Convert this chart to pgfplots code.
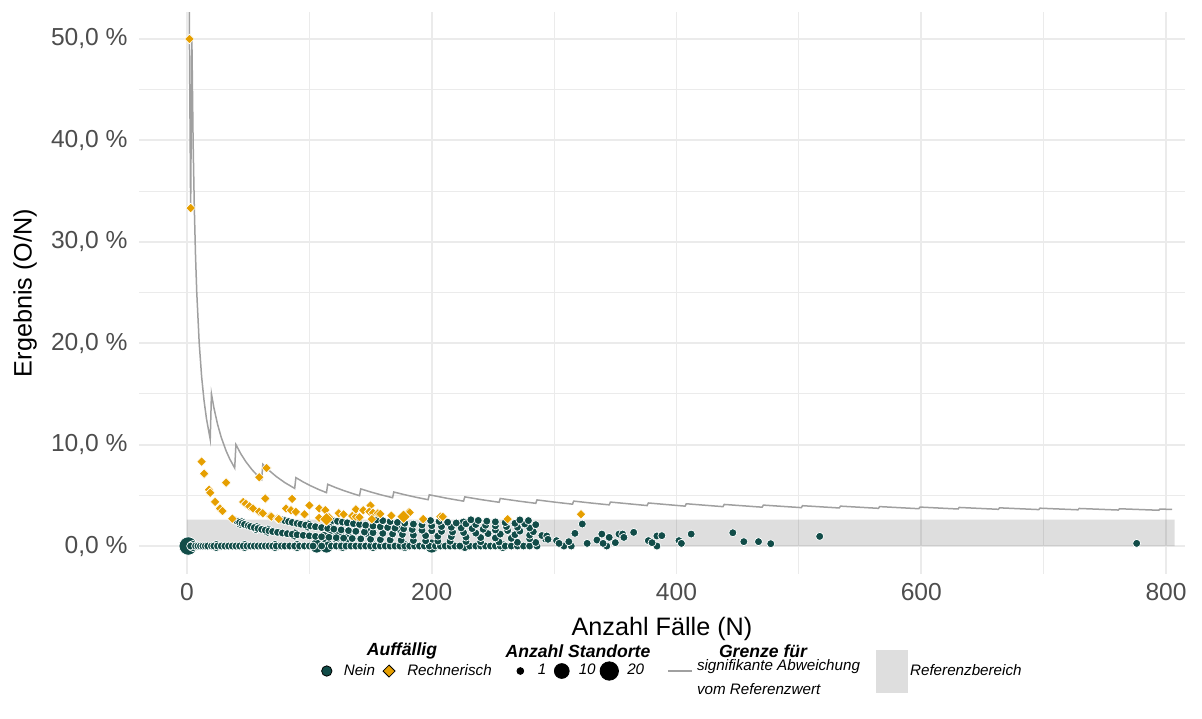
\documentclass[border=0pt]{standalone}
\usepackage{fontspec}
\setmainfont{Liberation Sans}
\usepackage{pgfplots}
\usepackage{pgfplotstable}
\pgfplotsset{compat=1.18}
\definecolor{tealc}{RGB}{17,76,72}
\definecolor{orangec}{RGB}{230,159,0}
\definecolor{linec}{RGB}{160,160,160}
\definecolor{bandc}{RGB}{222,222,222}
\definecolor{gridc}{RGB}{235,235,235}
\definecolor{tickc}{RGB}{77,77,77}

% threshold line: N, critical count k (value = k/N)
\pgfplotstableread[row sep=\\]{
N k\\ 1 1\\ 2 1\\ 3 1\\ 4 2\\ 5 2\\ 6 2\\ 7 2\\ 8 2\\ 10 2\\ 12 2\\ 14 2\\ 16 2\\ 19 2\\
20 3\\ 22 3\\ 25 3\\ 28 3\\ 32 3\\ 35 3\\ 39 3\\
40 4\\ 44 4\\ 48 4\\ 53 4\\ 58 4\\ 61 4\\
62 5\\ 67 5\\ 73 5\\ 80 5\\ 88 5\\
89 6\\ 95 6\\ 101 6\\ 108 6\\ 114 6\\
115 7\\ 121 7\\ 128 7\\ 135 7\\ 141 7\\
142 8\\ 150 8\\ 158 8\\ 168 8\\
169 9\\ 178 9\\ 187 9\\ 197 9\\
198 10\\ 212 10\\ 226 10\\
227 11\\ 241 11\\ 255 11\\
256 12\\ 271 12\\ 285 12\\
286 13\\ 301 13\\ 315 13\\
316 14\\ 331 14\\ 345 14\\
346 15\\ 376 15\\ 377 16\\ 407 16\\ 408 17\\ 438 17\\ 439 18\\ 470 18\\
471 19\\ 502 19\\ 503 20\\ 533 20\\ 534 21\\ 565 21\\ 566 22\\ 598 22\\
599 23\\ 630 23\\ 631 24\\ 663 24\\ 664 25\\ 696 25\\ 697 26\\ 728 26\\
729 27\\ 761 27\\ 762 28\\ 794 28\\ 795 29\\ 805 29\\
}\limittab

% teal points (not conspicuous): N, O ; small size
\pgfplotstableread[row sep=\\]{
N O\\
3 0\\ 7 0\\ 9 0\\ 11 0\\ 13 0\\ 15 0\\ 17 0\\ 20 0\\ 22 0\\ 25 0\\ 28 0\\ 31 0\\ 34 0\\ 37 0\\ 40 0\\ 43 0\\ 46 0\\ 49 0\\ 52 0\\ 55 0\\ 58 0\\ 61 0\\ 64 0\\ 67 0\\ 70 0\\ 73 0\\ 77 0\\ 80 0\\ 84 0\\ 88 0\\ 92 0\\ 96 0\\ 100 0\\ 103 0\\ 110 0\\ 118 0\\ 122 0\\ 126 0\\ 130 0\\ 134 0\\ 138 0\\ 142 0\\ 146 0\\ 150 0\\ 154 0\\ 158 0\\ 162 0\\ 166 0\\ 170 0\\ 174 0\\ 178 0\\ 182 0\\ 186 0\\ 190 0\\ 194 0\\ 198 0\\ 203 0\\ 207 0\\ 211 0\\ 215 0\\ 219 0\\ 223 0\\ 231 0\\ 236 0\\ 240 0\\ 244 0\\ 248 0\\ 252 0\\ 256 0\\ 260 0\\ 265 0\\ 270 0\\ 275 0\\ 280 0\\ 286 0\\ 308 0\\ 314 0\\ 343 0\\ 384 0\\
39 1\\ 41 1\\ 43 1\\ 45 1\\ 47 1\\ 50 1\\ 52 1\\ 55 1\\ 58 1\\ 61 1\\ 64 1\\ 67 1\\ 70 1\\ 74 1\\ 78 1\\ 82 1\\ 86 1\\ 90 1\\ 95 1\\ 100 1\\ 105 1\\ 110 1\\ 116 1\\ 122 1\\ 128 1\\ 135 1\\ 142 1\\ 150 1\\ 158 1\\ 166 1\\ 175 1\\ 185 1\\ 195 1\\ 205 1\\ 215 1\\ 228 1\\ 240 1\\ 255 1\\ 270 1\\ 285 1\\
78 2\\ 80 2\\ 83 2\\ 86 2\\ 90 2\\ 93 2\\ 97 2\\ 101 2\\ 105 2\\ 110 2\\ 115 2\\ 120 2\\ 126 2\\ 132 2\\ 138 2\\ 145 2\\ 152 2\\ 160 2\\ 168 2\\ 176 2\\ 185 2\\ 195 2\\ 205 2\\ 216 2\\ 228 2\\ 240 2\\ 252 2\\ 265 2\\ 280 2\\ 293 2\\
116 3\\ 119 3\\ 123 3\\ 127 3\\ 131 3\\ 136 3\\ 141 3\\ 146 3\\ 152 3\\ 158 3\\ 164 3\\ 170 3\\ 177 3\\ 184 3\\ 192 3\\ 200 3\\ 208 3\\ 217 3\\ 226 3\\ 236 3\\ 246 3\\ 256 3\\ 268 3\\ 280 3\\ 290 3\\
155 4\\ 160 4\\ 166 4\\ 172 4\\ 178 4\\ 185 4\\ 192 4\\ 200 4\\ 208 4\\ 216 4\\ 224 4\\ 233 4\\ 242 4\\ 252 4\\ 262 4\\ 272 4\\ 283 4\\
193 5\\ 199 5\\ 206 5\\ 213 5\\ 220 5\\ 228 5\\ 236 5\\ 244 5\\ 252 5\\ 261 5\\ 270 5\\ 280 5\\
232 6\\ 238 6\\ 245 6\\ 252 6\\ 260 6\\ 268 6\\ 276 6\\ 285 6\\
272 7\\ 279 7\\
}\tealS

\pgfplotstableread[row sep=\\]{
N O\\ 5 0\\ 24 0\\ 47 0\\ 72 0\\ 90 0\\ 127 0\\ 152 0\\ 178 0\\ 227 0\\ 258 0\\
44 1\\ 57 1\\ 66 1\\ 88 1\\ 112 1\\ 132 1\\ 99 2\\ 118 2\\ 148 2\\ 140 3\\ 175 3\\ 226 5\\
}\tealM

\pgfplotstableread[row sep=\\]{
N O\\ 106 0\\ 114 0\\ 200 0\\ 124 1\\
}\tealL

\pgfplotstableread[row sep=\\]{
N O\\ 1 0\\
}\tealXL

% teal points read directly as percent
\pgfplotstableread[row sep=\\]{
N P\\ 294 0.99\\ 295 0.66\\ 302 0.53\\ 304 0.26\\ 312 0.43\\ 317 1.25\\ 323 2.17\\ 327 0.26\\ 335 0.59\\ 339 1.18\\ 340 0.26\\ 345 0.85\\ 350 0.33\\ 353 1.18\\ 356 1.18\\ 357 0.85\\ 365 1.35\\ 377 0.53\\ 380 0.33\\ 384 0.99\\ 388 1.02\\ 402 0.53\\ 404 0.26\\ 412 1.18\\ 446 1.31\\ 455 0.43\\ 467 0.43\\ 477 0.23\\ 517 0.95\\ 776 0.26\\
}\tealP

% conspicuous (orange) points, percent
\pgfplotstableread[row sep=\\]{
N P\\ 2 50.0\\ 3 33.33\\ 12 8.33\\ 14 7.14\\ 18 5.56\\ 19 5.26\\ 23 4.35\\ 27 3.70\\ 29 3.45\\ 37 2.70\\ 32 6.25\\ 46 4.35\\ 48 4.17\\ 51 3.92\\ 54 3.70\\ 59 6.78\\ 65 7.69\\ 64 4.69\\ 59 3.39\\ 62 3.23\\ 68 2.94\\ 69 2.90\\ 74 2.70\\ 75 2.67\\ 81 3.70\\ 86 4.65\\ 85 3.53\\ 89 3.37\\ 96 3.13\\ 100 4.00\\ 108 3.70\\ 113 3.54\\ 108 2.78\\ 116 2.83\\ 124 3.23\\ 128 3.13\\ 135 2.96\\ 138 2.90\\ 138 3.62\\ 141 2.84\\ 144 3.52\\ 150 4.00\\ 149 3.39\\ 152 3.29\\ 151 2.65\\ 156 3.22\\ 158 3.16\\ 167 2.99\\ 181 3.32\\ 182 3.30\\ 193 2.66\\ 207 2.90\\ 209 2.88\\ 262 2.66\\ 322 3.13\\
}\orangeP

\pgfplotstableread[row sep=\\]{
N P\\ 114 2.63\\ 177 2.89\\
}\orangeB

\begin{document}
\begin{tikzpicture}
\useasboundingbox (0pt,0pt) rectangle (601pt,359pt);
\begin{axis}[
  at={(69.5pt,72pt)}, anchor=south west,
  scale only axis, width=523pt, height=281pt,
  xmin=-39.2, xmax=815.5, ymin=-2.76, ymax=52.66,
  axis line style={draw=none}, tick style={draw=none},
  major tick length=0pt, minor tick length=0pt,
  xtick={0,200,400,600,800}, xticklabels={0,200,400,600,800},
  minor xtick={100,300,500,700},
  ytick={0,10,20,30,40,50},
  yticklabels={{0,0 \%},{10,0 \%},{20,0 \%},{30,0 \%},{40,0 \%},{50,0 \%}},
  minor ytick={5,15,25,35,45},
  grid=both,
  major grid style={draw=gridc, line width=0.9pt},
  minor grid style={draw=gridc, line width=0.5pt},
  ticklabel style={font=\fontsize{12.3}{14}\selectfont, text=tickc},
  yticklabel style={anchor=east, inner sep=0pt, xshift=-5.5pt},
  xticklabel style={anchor=north, inner sep=0pt, yshift=-4.5pt},
  label style={font=\fontsize{12.6}{15}\selectfont},
  xlabel={Anzahl Fälle (N)},
  ylabel={Ergebnis (O/N)},
  xlabel style={at={(axis description cs:0.5,-0.0975)}, anchor=center},
  ylabel style={at={(axis description cs:-0.109,0.5)}, anchor=center},
  legend columns=-1,
  legend style={at={(axis description cs:0.1692,-0.1726)}, anchor=west,
    draw=none, fill=none, inner sep=0pt, outer sep=0pt,
    column sep=0pt, row sep=0pt, cells={anchor=center},
    nodes={inner sep=0pt},
    font=\fontsize{7.6}{9.5}\selectfont\itshape},
  clip=true,
]
% reference range
\addplot[draw=none, fill=black, fill opacity=0.13, forget plot]
  coordinates {(0,0) (0,2.6) (807,2.6) (807,0) (0,0)};
% threshold line
\addplot[linec, line width=0.75pt, no marks, forget plot]
  table[x=N, y expr=\thisrow{k}/\thisrow{N}*100] {\limittab};
% teal points
\addplot[only marks, mark=*, mark size=4.6pt, mark options={fill=tealc, draw=white, line width=0.35pt}, forget plot]
  table[x=N, y expr=\thisrow{O}/\thisrow{N}*100] {\tealXL};
\addplot[only marks, mark=*, mark size=3.5pt, mark options={fill=tealc, draw=white, line width=0.35pt}, forget plot]
  table[x=N, y expr=\thisrow{O}/\thisrow{N}*100] {\tealL};
\addplot[only marks, mark=*, mark size=2.8pt, mark options={fill=tealc, draw=white, line width=0.35pt}, forget plot]
  table[x=N, y expr=\thisrow{O}/\thisrow{N}*100] {\tealM};
\addplot[only marks, mark=*, mark size=2.0pt, mark options={fill=tealc, draw=white, line width=0.35pt}, forget plot]
  table[x=N, y expr=\thisrow{O}/\thisrow{N}*100] {\tealS};
\addplot[only marks, mark=*, mark size=2.0pt, mark options={fill=tealc, draw=white, line width=0.35pt}, forget plot]
  table[x=N, y=P] {\tealP};
% orange points
\addplot[only marks, mark=square*, mark size=1.7pt, mark options={rotate=45, fill=orangec, draw=white, line width=0.3pt}, forget plot]
  table[x=N, y=P] {\orangeP};
\addplot[only marks, mark=square*, mark size=2.4pt, mark options={rotate=45, fill=orangec, draw=white, line width=0.3pt}, forget plot]
  table[x=N, y=P] {\orangeB};

% legend
\addlegendimage{legend image code/.code={\path[draw=none,fill=none] (0pt,0pt) -- (13.9pt,0pt); \draw[fill=tealc, draw=black, line width=0.4pt] (5.4pt,0pt) circle (2.6pt);}}
\addlegendentry{Nein}
\addlegendimage{legend image code/.code={\path[draw=none,fill=none] (0pt,0pt) -- (16.1pt,0pt); \draw[fill=orangec, draw=black, line width=0.4pt] (7pt,3pt) -- (10pt,0pt) -- (7pt,-3pt) -- (4pt,0pt) -- cycle;}}
\addlegendentry{Rechnerisch}
\addlegendimage{legend image code/.code={\path[draw=none,fill=none] (0pt,0pt) -- (23.1pt,0pt); \fill[black] (14.3pt,0pt) circle (1.7pt);}}
\addlegendentry{1}
\addlegendimage{legend image code/.code={\path[draw=none,fill=none] (0pt,0pt) -- (16.2pt,0pt); \fill[black] (7.7pt,0pt) circle (3.7pt);}}
\addlegendentry{10}
\addlegendimage{legend image code/.code={\path[draw=none,fill=none] (0pt,0pt) -- (15.8pt,0pt); \fill[black] (6.8pt,0pt) circle (4.6pt);}}
\addlegendentry{20}
\addlegendimage{legend image code/.code={\path[draw=none,fill=none] (0pt,0pt) -- (26.4pt,0pt); \draw[linec, line width=0.75pt] (11.8pt,0pt) -- (23.9pt,0pt);}}
\addlegendentry{\begin{tabular}{@{}l@{}}signifikante Abweichung\\[2.5pt]vom Referenzwert\end{tabular}}
\addlegendimage{legend image code/.code={\path[draw=none,fill=none] (0pt,0pt) -- (25pt,0pt); \fill[bandc] (8.4pt,-10.5pt) rectangle (23.7pt,10.5pt);}}
\addlegendentry{Referenzbereich}
\end{axis}
\node[font=\fontsize{8.8}{10}\selectfont\bfseries\itshape] at (201pt,33.6pt) {Auffällig};
\node[font=\fontsize{8.8}{10}\selectfont\bfseries\itshape] at (289pt,33.6pt) {Anzahl Standorte};
\node[font=\fontsize{8.8}{10}\selectfont\bfseries\itshape] at (381.5pt,33.6pt) {Grenze für};
\end{tikzpicture}
\end{document}
